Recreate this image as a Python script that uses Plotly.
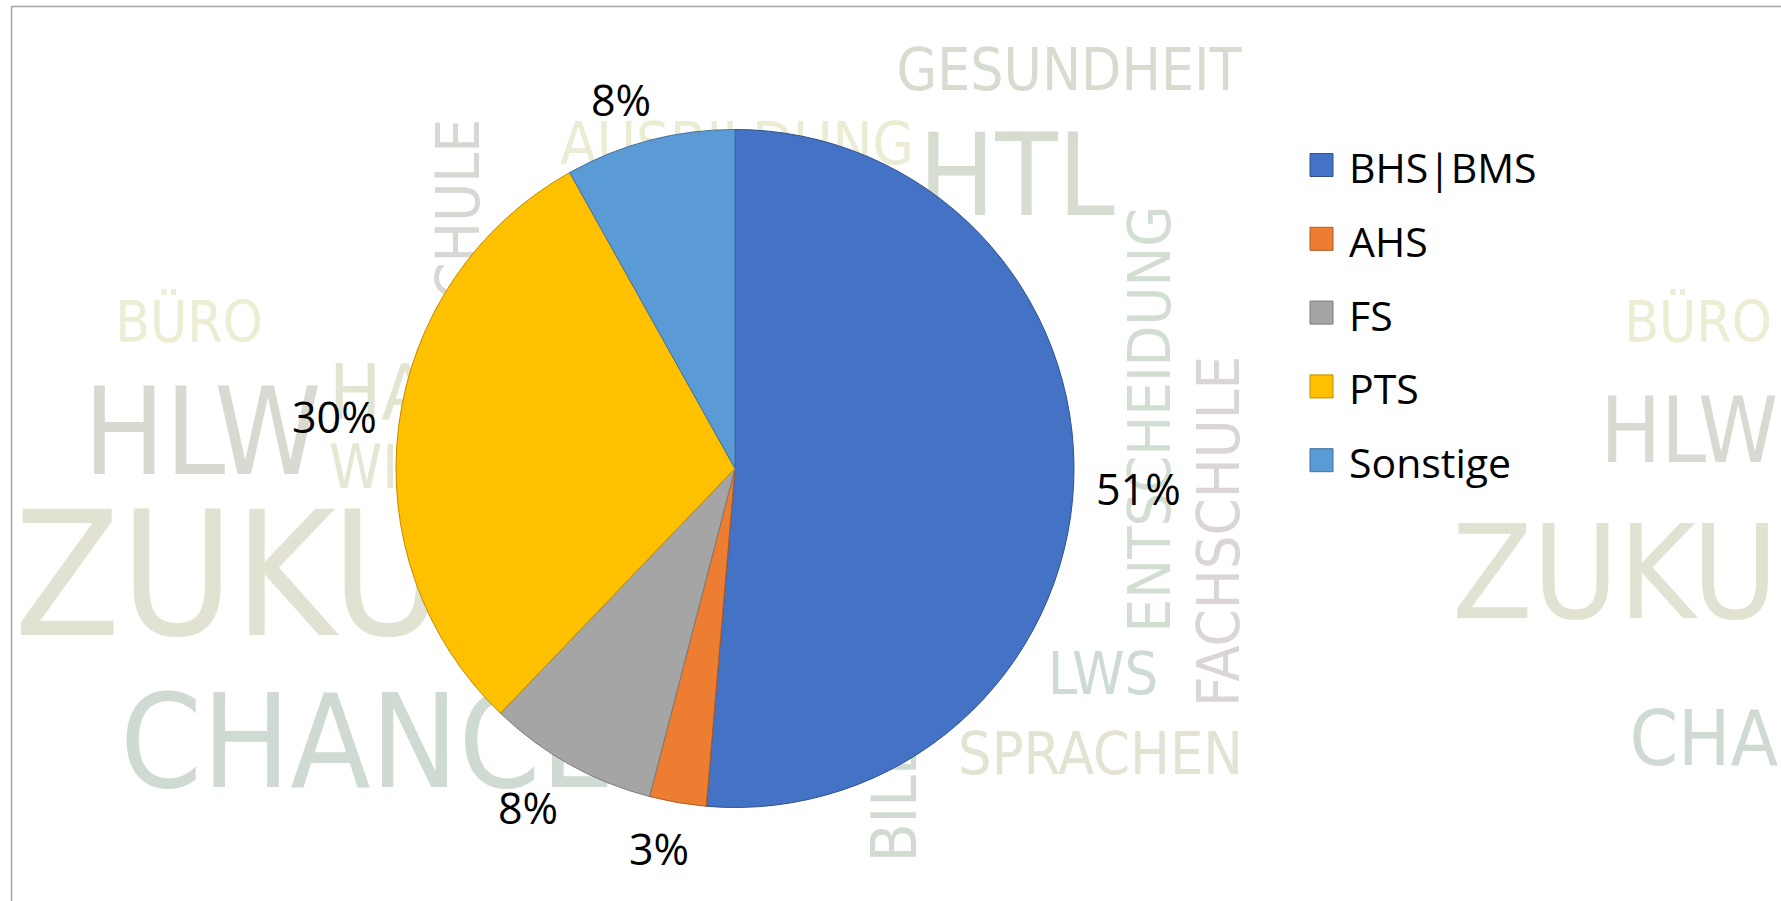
import math
import plotly.graph_objects as go

# ---------------- data ----------------
categories = ["BHS|BMS", "AHS", "FS", "PTS", "Sonstige"]
counts = [19, 1, 3, 11, 3]
colors = ["#4472C4", "#ED7D31", "#A5A5A5", "#FFC000", "#5B9BD5"]
edge_colors = ["#2F528F", "#AE5A21", "#7B7B7B", "#BC8C00", "#41719C"]

# background word cloud (decorative):
# text, box x0, y0, x1, y1 (px), angle, colour, anchor ('c' centre, 'l' left, 'r' right edge fit)
bg_words = [
    ("GESUNDHEIT", 909, 34, 1229, 97, 0, "#d6dccf", "c"),
    ("AUSBILDUNG", 574, 108, 900, 170, 0, "#ecebd3", "c"),
    ("HTL", 926, 108, 1107, 227, 0, "#d7dcd0", "c"),
    ("BÜRO", 121, 286, 257, 350, 0, "#ecedd3", "c"),
    ("HLW", 91, 357, 314, 491, 0, "#d9d8d1", "c"),
    ("HANDEL", 329, 350, 565, 423, 0, "#e4e4d3", "l"),
    ("WIRTSCHAFT", 329, 436, 629, 491, 0, "#e6e6d2", "l"),
    ("ZUKUNFT", 14, 468, 560, 658, 0, "#e2e2d2", "l"),
    ("CHANCEN", 120, 670, 600, 795, 0, "#cfdad2", "l"),
    ("LWS", 1049, 638, 1157, 700, 0, "#cedad8", "c"),
    ("SPRACHEN", 963, 719, 1238, 781, 0, "#e3e2d3", "c"),
    ("HANDELSSCHULE", 423, 134, 486, 576, -90, "#d9d7d3", "c"),
    ("ENTSCHEIDUNG", 1113, 221, 1177, 617, -90, "#d2ded2", "c"),
    ("FACHSCHULE", 1183, 363, 1246, 700, -90, "#dbd6d5", "c"),
    ("BILDUNG", 858, 614, 921, 852, -90, "#d2dbd2", "c"),
    # repeated tile at the right edge (only the visible part)
    ("BÜRO", 1630, 286, 1766, 350, 0, "#ecedd3", "c"),
    ("HLW", 1598, 357, 1778, 491, 0, "#d9d8d1", "r"),
    ("ZUKU", 1458, 468, 1778, 658, 0, "#e2e2d2", "r"),
    ("CHA", 1631, 670, 1778, 795, 0, "#cfdad2", "r"),
]

W, H = 1781, 901


def px(x):
    return x / W


def py(y):
    return 1 - y / H


# approximate advance widths (em) of the fallback sans font
_aw = {"A": .667, "B": .667, "C": .722, "D": .722, "E": .667, "F": .611, "G": .778,
       "H": .722, "I": .278, "K": .667, "L": .556, "M": .833, "N": .722, "O": .778,
       "P": .667, "R": .722, "S": .667, "T": .611, "U": .722, "W": .944, "Z": .611,
       "Ü": .722}


def em_width(t):
    return sum(_aw.get(c, .65) for c in t) * 0.9


bg_font = "Liberation Sans Narrow, DejaVu Sans Condensed, Arial Narrow, sans-serif"
shapes = []


def add_word(text, x0, y0, x1, y1, angle, color, anchor):
    if angle == 0:
        length, cap = x1 - x0, y1 - y0
    else:
        length, cap = y1 - y0, x1 - x0
    fit_w = length / em_width(text)
    fit_h = cap / 0.72
    wgt = {"c": 0.85, "l": 0.6, "r": 1.0}[anchor]
    size = fit_w ** wgt * fit_h ** (1 - wgt)
    pos = {"c": "middle center", "l": "middle left", "r": "middle right"}[anchor]
    if anchor == "l":
        x0 -= 3
    if anchor == "r":
        x1 += 3
    shapes.append(dict(
        type="rect", xref="paper", yref="paper",
        x0=px(x0), x1=px(x1), y0=py(y1), y1=py(y0),
        line=dict(width=0), fillcolor="rgba(0,0,0,0)", layer="below",
        label=dict(text=text, textangle=angle, textposition=pos, padding=0,
                   font=dict(family=bg_font, size=size, color=color)),
    ))


for w in bg_words:
    add_word(*w)

# chart frame
shapes.append(dict(type="rect", xref="paper", yref="paper", x0=px(11.5), x1=px(W + 30), y0=py(H + 30), y1=py(6.5),
                   line=dict(color="#a6a6a6", width=1.5), fillcolor="rgba(0,0,0,0)", layer="above"))

# pie geometry (pixels)
pie_cx, pie_cy, pie_r = 735, 468.5, 339

fig = go.Figure()
fig.add_trace(go.Pie(
    labels=categories, values=counts, sort=False, direction="clockwise", rotation=0,
    marker=dict(colors=colors, line=dict(color=edge_colors, width=1)),
    textinfo="none",
    domain=dict(x=[px(pie_cx - pie_r), px(pie_cx + pie_r)], y=[py(pie_cy + pie_r), py(pie_cy - pie_r)]),
    showlegend=False, hoverinfo="label+value+percent",
))

annotations = []
lab_font = dict(family="Open Sans, Noto Sans, sans-serif", size=43, color="black")


def clip3(t):
    return max(-1.0, min(1.0, 3 * t))


# data labels placed outside each slice at its mid angle (derived from the values)
total = sum(counts)
cum = 0
gap, half_h = 22, 22
for v in counts:
    mid = math.radians((cum + v / 2) / total * 360)
    cum += v
    txt = f"{round(v / total * 100)}%"
    tw = 24.6 * (len(txt) - 1) + 36.3
    s, c = math.sin(mid), math.cos(mid)
    lx = pie_cx + (pie_r + gap) * s + tw / 2 * clip3(s)
    ly = pie_cy - (pie_r + gap) * c + half_h * clip3(-c)
    annotations.append(dict(xref="paper", yref="paper", x=px(lx), y=py(ly + 2),
                            xanchor="center", yanchor="middle", text=txt, showarrow=False,
                            font=lab_font))

# legend (drawn from the category / colour lists)
leg_x0, leg_y0, leg_dy, sq = 1310, 165, 73.8, 23
for i, (cat, col, ec) in enumerate(zip(categories, colors, edge_colors)):
    yc = leg_y0 + i * leg_dy
    shapes.append(dict(type="rect", xref="paper", yref="paper",
                       x0=px(leg_x0), x1=px(leg_x0 + sq), y0=py(yc + sq / 2), y1=py(yc - sq / 2),
                       fillcolor=col, line=dict(color=ec, width=1), layer="above"))
    annotations.append(dict(xref="paper", yref="paper", x=px(leg_x0 + 37), y=py(yc + 2),
                            xanchor="left", yanchor="middle", text=cat, showarrow=False,
                            font=dict(family="Open Sans, Noto Sans, sans-serif", size=41, color="black")))

fig.update_layout(
    width=W, height=H, margin=dict(l=0, r=0, t=0, b=0),
    paper_bgcolor="white", plot_bgcolor="white", showlegend=False,
    shapes=shapes, annotations=annotations,
)

fig.write_html("out.html", config={"displayModeBar": False},
               post_script="document.body.style.margin='0px';")
